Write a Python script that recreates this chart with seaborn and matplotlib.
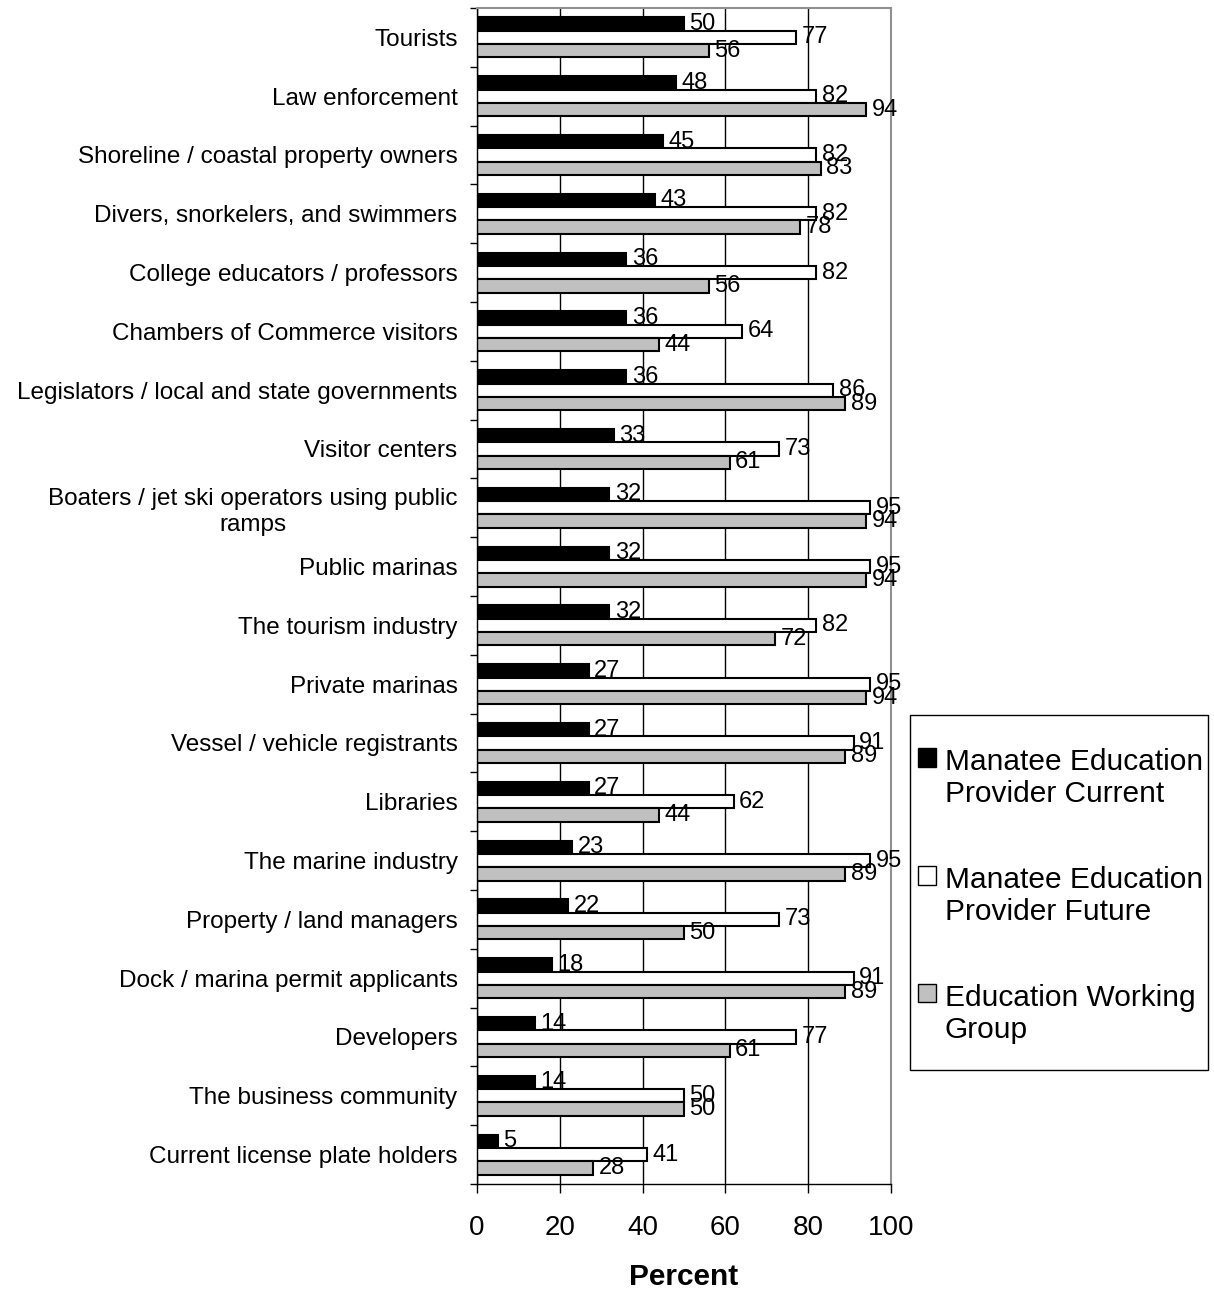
import matplotlib
matplotlib.use("Agg")
import matplotlib.pyplot as plt
import seaborn as sns
import pandas as pd
import numpy as np
from matplotlib.patches import Patch, Rectangle

categories = [
    "Tourists", "Law enforcement", "Shoreline / coastal property owners",
    "Divers, snorkelers, and swimmers", "College educators / professors",
    "Chambers of Commerce visitors", "Legislators / local and state governments",
    "Visitor centers", "Boaters / jet ski operators using public\nramps",
    "Public marinas", "The tourism industry", "Private marinas",
    "Vessel / vehicle registrants", "Libraries", "The marine industry",
    "Property / land managers", "Dock / marina permit applicants",
    "Developers", "The business community", "Current license plate holders",
]
current = [50, 48, 45, 43, 36, 36, 36, 33, 32, 32, 32, 27, 27, 27, 23, 22, 18, 14, 14, 5]
future = [77, 82, 82, 82, 82, 64, 86, 73, 95, 95, 82, 95, 91, 62, 95, 73, 91, 77, 50, 41]
working = [56, 94, 83, 78, 56, 44, 89, 61, 94, 94, 72, 94, 89, 44, 89, 50, 89, 61, 50, 28]
series_names = ["Manatee Education\nProvider Current",
                "Manatee Education\nProvider Future",
                "Education Working\nGroup"]
colors = ["#000000", "#FFFFFF", "#C0C0C0"]

rows = []
for vals, s in zip([current, future, working], series_names):
    for c, v in zip(categories, vals):
        rows.append({"Category": c, "Series": s, "Percent": v})
df = pd.DataFrame(rows)

sns.set_style("white")
plt.rcParams['font.family'] = ['Liberation Sans', 'DejaVu Sans']
plt.rcParams['text.color'] = 'black'
plt.rcParams['axes.labelcolor'] = 'black'
plt.rcParams['xtick.color'] = 'black'
plt.rcParams['ytick.color'] = 'black'

fig = plt.figure(figsize=(12.14, 12.91), dpi=100)
ax = fig.add_axes([477/1214, 1 - 1184/1291, (891-477)/1214, (1184-8)/1291])

sns.barplot(data=df, y="Category", x="Percent", hue="Series", orient="h",
            palette=colors, order=categories, hue_order=series_names,
            width=0.68, edgecolor="black", linewidth=1.5, ax=ax, legend=False)

for cont in ax.containers:
    ax.bar_label(cont, fmt="%d", padding=4, fontsize=17, color="black")

ax.set_xlim(0, 100)
ax.set_ylim(len(categories) - 0.5, -0.5)
ax.set_xticks([0, 20, 40, 60, 80, 100])
ax.tick_params(axis="x", labelsize=20, length=6.5, width=1, direction="out",
               pad=16, bottom=True, labelcolor="black")
ax.tick_params(axis="y", labelsize=17.5, length=0, pad=14, labelcolor="black")
for t in ax.get_yticklabels():
    t.set_multialignment("center")
ax.set_yticks(np.arange(-0.5, len(categories), 1), minor=True)
ax.tick_params(axis="y", which="minor", length=5, width=1, left=True)
ax.set_ylabel("")
ax.set_xlabel("Percent", fontsize=21.5, fontweight="bold", labelpad=15.5, color="black")

ax.grid(axis="x", color="black", linewidth=1)
ax.set_axisbelow(True)
for side in ["top", "right"]:
    ax.spines[side].set_visible(True)
    ax.spines[side].set_color("#909090")
    ax.spines[side].set_linewidth(1.5)
for side in ["left", "bottom"]:
    ax.spines[side].set_visible(True)
    ax.spines[side].set_color("black")
    ax.spines[side].set_linewidth(1)

# legend frame
fig.add_artist(Rectangle((910/1214, 1 - 1070/1291), (1208-910)/1214, (1070-715)/1291,
                         transform=fig.transFigure, facecolor="white",
                         edgecolor="black", linewidth=1))
handles = [Patch(facecolor=c, edgecolor="black", linewidth=1) for c in colors]
leg = fig.legend(handles, series_names, loc="center left",
                 bbox_to_anchor=(918/1214, 1 - 896/1291), fontsize=21.5,
                 frameon=False, handlelength=0.6, handleheight=0.6,
                 handletextpad=0.3, labelspacing=1.92, borderpad=0,
                 borderaxespad=0)
try:
    for col in leg._legend_handle_box.get_children():
        for hp in col.get_children():
            hp.align = "top"
except Exception:
    pass

fig.savefig("out.png", dpi=100)
